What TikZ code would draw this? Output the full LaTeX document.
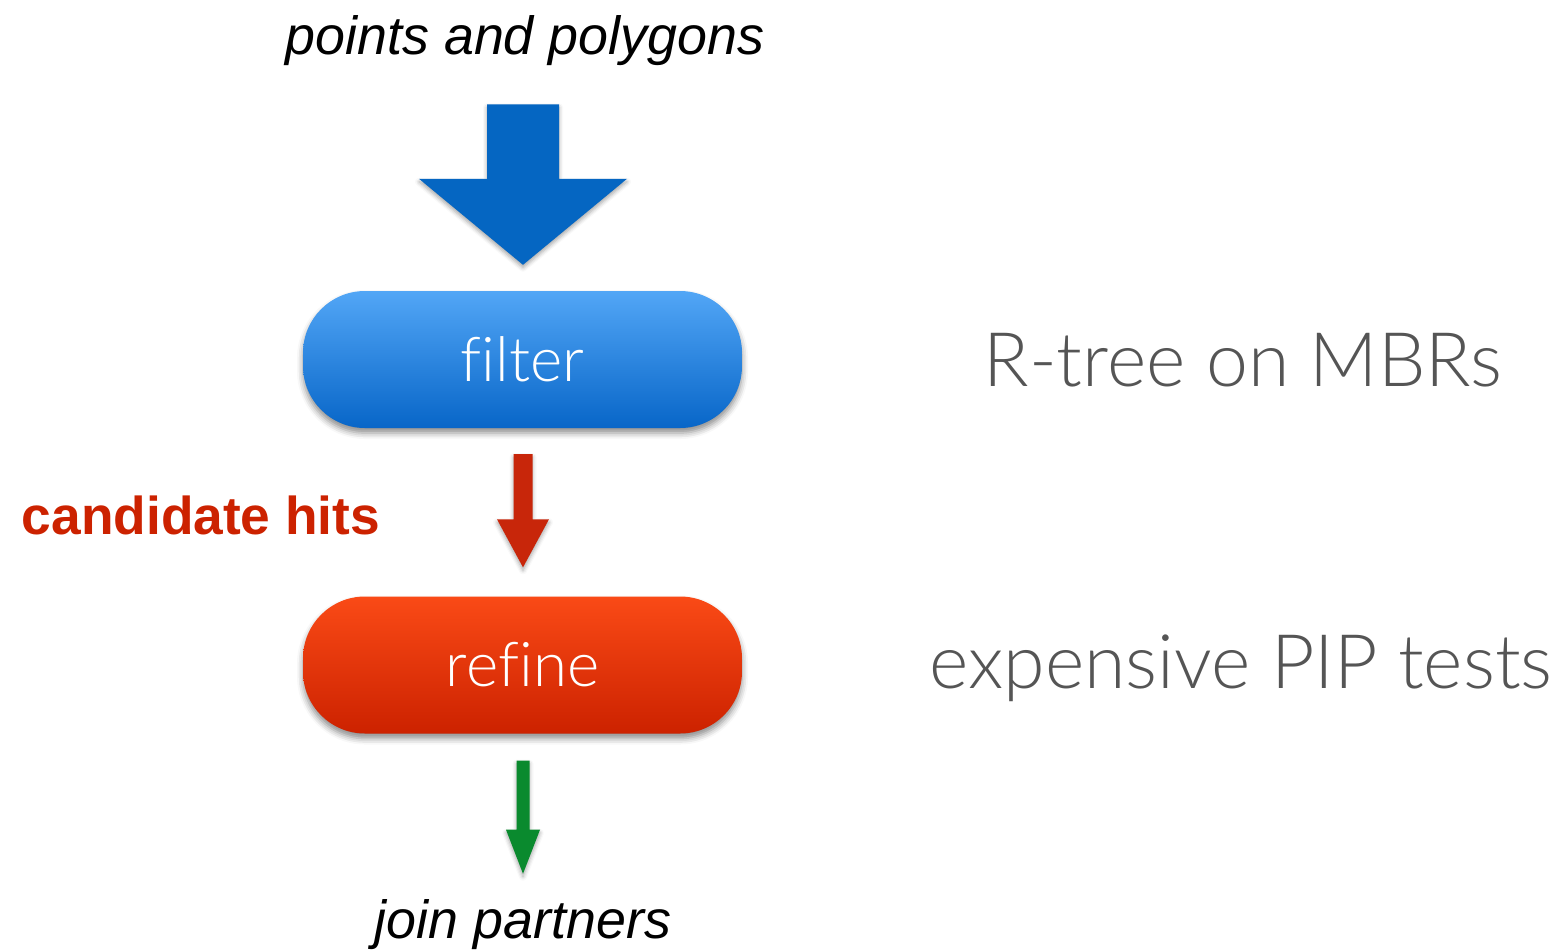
\documentclass[tikz,border=0pt]{standalone}
\usepackage{fontspec}
\usetikzlibrary{calc,shapes.misc,shadows.blur}
\setmainfont{Liberation Sans}
\IfFontExistsTF{Lato Light}
  {\newfontfamily\lightfont{Lato Light}[Ligatures=NoCommon]}
  {\newfontfamily\lightfont{Lato}[Ligatures=NoCommon]}
\definecolor{arrowblue}{HTML}{0566C2}
\definecolor{arrowred}{HTML}{C8260A}
\definecolor{arrowgreen}{HTML}{0A8A2E}
\definecolor{filtertop}{HTML}{52A6F6}
\definecolor{filterbot}{HTML}{0866C8}
\definecolor{refinetop}{HTML}{FA4A16}
\definecolor{refinebot}{HTML}{CC2200}
\definecolor{sidegray}{HTML}{555555}
\definecolor{hitred}{HTML}{CC2200}
\tikzset{
  stage/.style={rounded corners=62bp, minimum width=439bp, minimum height=137bp,
    inner sep=0pt, text=white, font=\lightfont\fontsize{62}{70}\selectfont,
    blur shadow={shadow xshift=0bp, shadow yshift=-5bp, shadow blur radius=6bp, shadow opacity=45}},
  flowlabel/.style={font=\itshape\fontsize{54}{60}\selectfont, text=black, inner sep=0pt},
  sidenote/.style={font=\lightfont\fontsize{75.5}{80}\selectfont, text=sidegray, inner sep=0pt},
  hitlabel/.style={font=\bfseries\fontsize{53.5}{60}\selectfont, text=hitred, inner sep=0pt},
  arrowshade/.style={blur shadow={shadow xshift=0bp, shadow yshift=-3bp, shadow blur radius=4bp, shadow opacity=35}}
}
% block arrow: start, tip, half shaft width, half head width, head length, colour
\newcommand\blockarrow[6]{%
  \fill[#6, arrowshade]
    ($(#1)+(-#3,0)$) -- ($(#1)+(#3,0)$) -- ($(#2)+(#3,-#5)$) -- ($(#2)+(#4,-#5)$)
    -- (#2) -- ($(#2)+(-#4,-#5)$) -- ($(#2)+(-#3,-#5)$) -- cycle;}
\begin{document}
\begin{tikzpicture}[x=1bp, y=-1bp]
\useasboundingbox (0,0) rectangle (1558,949);

% inputs and outputs
\node[flowlabel] (input) at (525,41) {points and polygons};
\node[flowlabel] (output) at (523,925) {join partners};

% the two stages
\node[stage, top color=filtertop, bottom color=filterbot] (filter) at (522.5,359.5) {filter};
\node[stage, top color=refinetop, bottom color=refinebot] (refine) at (522.5,665) {refine};

% notes beside the stages
\node[sidenote] (rtree) at (1243,360) {R-tree on MBRs};
\node[sidenote] (pip) at (1241,668) {expensive PIP tests};
\node[hitlabel] (hits) at (201,515) {candidate hits};

% flow arrows
\coordinate (a0) at ($(input.south) + (-2,38)$);
\coordinate (a1) at ($(filter.north) + (0.5,-26)$);
\blockarrow{a0}{a1}{36}{104}{86}{arrowblue}

\coordinate (r0) at ($(filter.south) + (0.5,26)$);
\coordinate (r1) at ($(refine.north) + (0.5,-29)$);
\blockarrow{r0}{r1}{9.5}{26}{48}{arrowred}

\coordinate (g0) at ($(refine.south) + (0.5,27)$);
\coordinate (g1) at ($(output.north) + (0,-26)$);
\blockarrow{g0}{g1}{6.5}{17}{44}{arrowgreen}
\end{tikzpicture}
\end{document}
